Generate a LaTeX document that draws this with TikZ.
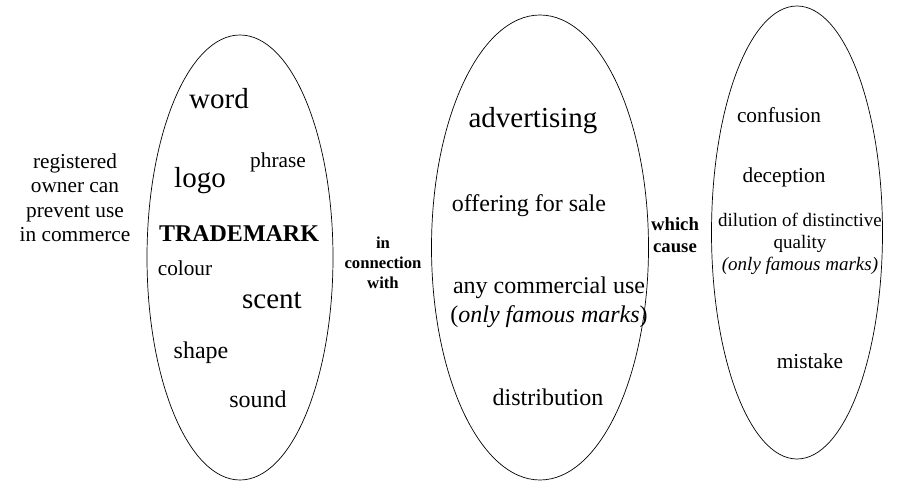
\documentclass[tikz,border=0pt]{standalone}
\usepackage{fontspec}
\setmainfont{Liberation Serif}
\usetikzlibrary{shapes.geometric}

\begin{document}
% multi-line nodes are placed by the baseline of their last line
\begin{tikzpicture}[x=1pt,y=-1pt,
  oval/.style={draw, ellipse, inner sep=0pt, line width=0.7pt},
  term/.style={anchor=base, inner sep=0pt, align=center},
  huge/.style={font=\fontsize{29}{34}\selectfont},
  large/.style={font=\fontsize{24}{29}\selectfont},
  norm/.style={font=\fontsize{21.3}{24.5}\selectfont},
  small/.style={font=\fontsize{19}{22}\selectfont},
  link/.style={anchor=base, inner sep=0pt, align=center}]
\useasboundingbox (0,0) rectangle (897,481);

% the three groups
\node[oval, minimum width=186pt, minimum height=445pt] (marks) at (240,257.5) {};
\node[oval, minimum width=217pt, minimum height=465pt] (uses) at (540,247.5) {};
\node[oval, minimum width=171pt, minimum height=453pt] (harms) at (797,232.5) {};

% left caption
\node[term, norm] (owner) at (75,241.5) {registered\\owner can\\prevent use\\in commerce};

% kinds of trademark
\node[term, huge] (word) at (219,109) {word};
\node[term, norm] (phrase) at (278,168) {phrase};
\node[term, huge] (logo) at (200,188) {logo};
\node[term, font={\fontsize{24}{29}\selectfont\bfseries}] (tm) at (239,241) {TRADEMARK};
\node[term, norm] (colour) at (185,276) {colour};
\node[term, huge] (scent) at (272,308) {scent};
\node[term, large] (shape) at (201,358) {shape};
\node[term, large] (sound) at (258,407) {sound};

% first link
\node[link, font={\fontsize{16.7}{20}\selectfont\bfseries}] (conn) at (383,288) {in\\connection\\with};

% kinds of use
\node[term, huge] (adv) at (533,128) {advertising};
\node[term, large] (offer) at (529,212) {offering for sale};
\node[term, large] (comm) at (549,322) {any commercial use\\(\textit{only famous marks})};
\node[term, large] (distr) at (548,405) {distribution};

% second link
\node[link, font={\fontsize{18.7}{21}\selectfont\bfseries}] (cause) at (675,252) {which\\cause};

% resulting harms
\node[term, norm] (conf) at (779,123) {confusion};
\node[term, norm] (decep) at (784,183) {deception};
\node[term, small] (dil) at (800,270) {dilution of distinctive\\quality\\\textit{(only famous marks)}};
\node[term, norm] (mist) at (810,368) {mistake};
\end{tikzpicture}
\end{document}
